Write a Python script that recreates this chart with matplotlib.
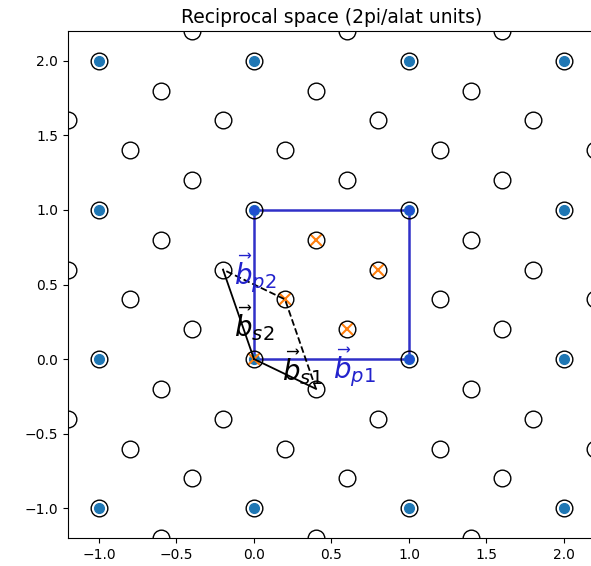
import numpy as np
import matplotlib
matplotlib.use("Agg")
import matplotlib.pyplot as plt

# supercell reciprocal lattice points, row by row (y -> x positions)
sc_rows = [
    (-1.2, [-0.6, 0.4, 1.4]),
    (-1.0, [-1.0, 0.0, 1.0, 2.0]),
    (-0.8, [-0.4, 0.6, 1.6]),
    (-0.6, [-0.8, 0.2, 1.2, 2.2]),
    (-0.4, [-1.2, -0.2, 0.8, 1.8]),
    (-0.2, [-0.6, 0.4, 1.4]),
    (0.0, [-1.0, 0.0, 1.0, 2.0]),
    (0.2, [-0.4, 0.6, 1.6]),
    (0.4, [-0.8, 0.2, 1.2, 2.2]),
    (0.6, [-1.2, -0.2, 0.8, 1.8]),
    (0.8, [-0.6, 0.4, 1.4]),
    (1.0, [-1.0, 0.0, 1.0, 2.0]),
    (1.2, [-0.4, 0.6, 1.6]),
    (1.4, [-0.8, 0.2, 1.2, 2.2]),
    (1.6, [-1.2, -0.2, 0.8, 1.8]),
    (1.8, [-0.6, 0.4, 1.4]),
    (2.0, [-1.0, 0.0, 1.0, 2.0]),
    (2.2, [-0.4, 0.6, 1.6]),
]

# primitive reciprocal lattice points
prim_x = [-1, 0, 1, 2, -1, 0, 1, 2, -1, 0, 1, 2, -1, 0, 1, 2]
prim_y = [-1, -1, -1, -1, 0, 0, 0, 0, 1, 1, 1, 1, 2, 2, 2, 2]

# supercell points folded into the primitive cell
fold_x = [0.0, 0.2, 0.4, 0.6, 0.8]
fold_y = [0.0, 0.4, 0.8, 0.2, 0.6]

# primitive cell outline
cell_x = [0, 1, 1, 0, 0]
cell_y = [0, 0, 1, 1, 0]

# supercell reciprocal vectors
bs1 = (0.4, -0.2)
bs2 = (-0.2, 0.6)

sc_x = [x for y, xs in sc_rows for x in xs]
sc_y = [y for y, xs in sc_rows for x in xs]

fig = plt.figure(figsize=(5.91, 5.66), dpi=100)
ax = fig.add_axes([68 / 591, 28 / 566, 527 / 591, 507 / 566])

blue = '#3030c8'

ax.plot(prim_x, prim_y, 'o', color='C0', ms=7, zorder=2)
ax.plot(cell_x, cell_y, '-', color=blue, lw=1.8, zorder=1)
ax.plot(cell_x[1:4], cell_y[1:4], 'o', color='#1f4fd0', ms=6, zorder=2)
ax.plot(fold_x, fold_y, 'x', color='C1', ms=9, mew=1.5, zorder=3)
ax.plot(sc_x, sc_y, 'o', mfc='none', mec='black', ms=12, mew=1.0, zorder=4)

# supercell vectors: solid, closing sides dashed
ax.plot([0, bs1[0]], [0, bs1[1]], 'k-', lw=1.3, zorder=5)
ax.plot([0, bs2[0]], [0, bs2[1]], 'k-', lw=1.3, zorder=5)
ax.plot([bs1[0], bs1[0] + bs2[0], bs2[0]], [bs1[1], bs1[1] + bs2[1], bs2[1]],
        'k--', lw=1.3, zorder=5)

ax.text(0.18, -0.14, r'$\vec{b}_{s1}$', fontsize=20, color='black', zorder=6)
ax.text(-0.13, 0.15, r'$\vec{b}_{s2}$', fontsize=20, color='black', zorder=6)
ax.text(0.51, -0.13, r'$\vec{b}_{p1}$', fontsize=20, color='#2222cc', zorder=6)
ax.text(-0.13, 0.5, r'$\vec{b}_{p2}$', fontsize=20, color='#2222cc', zorder=6)

ax.set_xlim(-1.2, 2.2)
ax.set_ylim(-1.2, 2.2)
ax.set_xticks(np.arange(-1.0, 2.01, 0.5))
ax.set_yticks(np.arange(-1.0, 2.01, 0.5))
ax.set_title('Reciprocal space (2pi/alat units)', fontsize=13.5)

fig.savefig('out.png', dpi=100)
